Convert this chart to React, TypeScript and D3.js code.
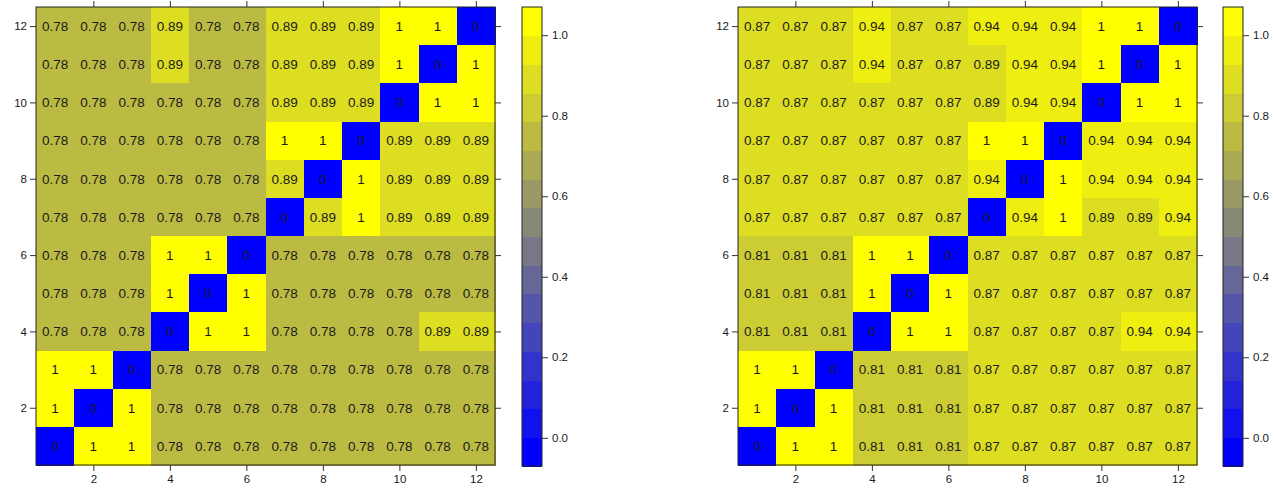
import React, { useEffect, useRef } from 'react';
import * as d3 from 'd3';

// Row labels go from y = 12 (top) down to y = 1 (bottom); columns x = 1..12
const rowsTop = [12, 11, 10, 9, 8, 7, 6, 5, 4, 3, 2, 1];

const leftMatrix: number[][] = [
    [0.78, 0.78, 0.78, 0.89, 0.78, 0.78, 0.89, 0.89, 0.89, 1, 1, 0],
    [0.78, 0.78, 0.78, 0.89, 0.78, 0.78, 0.89, 0.89, 0.89, 1, 0, 1],
    [0.78, 0.78, 0.78, 0.78, 0.78, 0.78, 0.89, 0.89, 0.89, 0, 1, 1],
    [0.78, 0.78, 0.78, 0.78, 0.78, 0.78, 1, 1, 0, 0.89, 0.89, 0.89],
    [0.78, 0.78, 0.78, 0.78, 0.78, 0.78, 0.89, 0, 1, 0.89, 0.89, 0.89],
    [0.78, 0.78, 0.78, 0.78, 0.78, 0.78, 0, 0.89, 1, 0.89, 0.89, 0.89],
    [0.78, 0.78, 0.78, 1, 1, 0, 0.78, 0.78, 0.78, 0.78, 0.78, 0.78],
    [0.78, 0.78, 0.78, 1, 0, 1, 0.78, 0.78, 0.78, 0.78, 0.78, 0.78],
    [0.78, 0.78, 0.78, 0, 1, 1, 0.78, 0.78, 0.78, 0.78, 0.89, 0.89],
    [1, 1, 0, 0.78, 0.78, 0.78, 0.78, 0.78, 0.78, 0.78, 0.78, 0.78],
    [1, 0, 1, 0.78, 0.78, 0.78, 0.78, 0.78, 0.78, 0.78, 0.78, 0.78],
    [0, 1, 1, 0.78, 0.78, 0.78, 0.78, 0.78, 0.78, 0.78, 0.78, 0.78],
];

const rightMatrix: number[][] = [
    [0.87, 0.87, 0.87, 0.94, 0.87, 0.87, 0.94, 0.94, 0.94, 1, 1, 0],
    [0.87, 0.87, 0.87, 0.94, 0.87, 0.87, 0.89, 0.94, 0.94, 1, 0, 1],
    [0.87, 0.87, 0.87, 0.87, 0.87, 0.87, 0.89, 0.94, 0.94, 0, 1, 1],
    [0.87, 0.87, 0.87, 0.87, 0.87, 0.87, 1, 1, 0, 0.94, 0.94, 0.94],
    [0.87, 0.87, 0.87, 0.87, 0.87, 0.87, 0.94, 0, 1, 0.94, 0.94, 0.94],
    [0.87, 0.87, 0.87, 0.87, 0.87, 0.87, 0, 0.94, 1, 0.89, 0.89, 0.94],
    [0.81, 0.81, 0.81, 1, 1, 0, 0.87, 0.87, 0.87, 0.87, 0.87, 0.87],
    [0.81, 0.81, 0.81, 1, 0, 1, 0.87, 0.87, 0.87, 0.87, 0.87, 0.87],
    [0.81, 0.81, 0.81, 0, 1, 1, 0.87, 0.87, 0.87, 0.87, 0.94, 0.94],
    [1, 1, 0, 0.81, 0.81, 0.81, 0.87, 0.87, 0.87, 0.87, 0.87, 0.87],
    [1, 0, 1, 0.81, 0.81, 0.81, 0.87, 0.87, 0.87, 0.87, 0.87, 0.87],
    [0, 1, 1, 0.81, 0.81, 0.81, 0.87, 0.87, 0.87, 0.87, 0.87, 0.87],
];

const axisTicks = [2, 4, 6, 8, 10, 12];
const colorTicks = [0, 0.2, 0.4, 0.6, 0.8, 1.0];

// 16 bands between -0.07 and 1.07, colours ramped blue -> yellow
const nBands = 16;
const colorRange: [number, number] = [-0.07, 1.07];
const breaks = d3.range(nBands + 1).map(i => colorRange[0] + (i * (colorRange[1] - colorRange[0])) / nBands);
const bandColors = d3.range(nBands).map(i => d3.interpolateRgb('#0000ff', '#ffff00')(i / (nBands - 1)));

const colorOf = (v: number) => {
    let idx = d3.bisectRight(breaks, v) - 1;
    idx = Math.max(0, Math.min(nBands - 1, idx));
    return bandColors[idx];
};

const fmt = (v: number) => (v === 0 || v === 1 ? String(v) : v.toFixed(2));

const FONT = '"Liberation Sans", Arial, Helvetica, sans-serif';

export default function App() {
    const svgRef = useRef<SVGSVGElement>(null);

    useEffect(() => {
        if (!svgRef.current) return;
        const svg = d3.select(svgRef.current);
        svg.selectAll('*').remove();

        const panels = [
            { data: leftMatrix, left: 36, keyLeft: 522 },
            { data: rightMatrix, left: 738, keyLeft: 1223 },
        ];
        const top = 7;
        const bottom = 465;
        const size = 459;
        const tickLen = 6;

        panels.forEach(p => {
            const x = d3.scaleLinear().domain([0.5, 12.5]).range([p.left, p.left + size]);
            const y = d3.scaleLinear().domain([0.5, 12.5]).range([bottom, top]);
            const g = svg.append('g');

            const cells = p.data.flatMap((row, ri) =>
                row.map((v, ci) => ({ col: ci + 1, row: rowsTop[ri], v }))
            );

            g.append('g')
                .attr('shape-rendering', 'crispEdges')
                .selectAll('rect')
                .data(cells)
                .join('rect')
                .attr('x', d => x(d.col - 0.5))
                .attr('y', d => y(d.row + 0.5))
                .attr('width', d => x(d.col + 0.5) - x(d.col - 0.5) + 0.6)
                .attr('height', d => y(d.row - 0.5) - y(d.row + 0.5) + 0.6)
                .attr('fill', d => colorOf(d.v));

            g.append('g')
                .attr('font-family', FONT)
                .attr('font-size', 13.5)
                .attr('text-anchor', 'middle')
                .selectAll('text')
                .data(cells)
                .join('text')
                .attr('x', d => x(d.col))
                .attr('y', d => y(d.row))
                .attr('dy', '0.36em')
                .attr('fill', '#1a1a1a')
                .text(d => fmt(d.v));

            g.append('rect')
                .attr('x', p.left)
                .attr('y', top)
                .attr('width', size)
                .attr('height', bottom - top)
                .attr('fill', 'none')
                .attr('stroke', '#222')
                .attr('stroke-width', 1);

            // axes: labelled on left & bottom, tick-only on top & right
            const axL = d3.axisLeft(y).tickValues(axisTicks).tickSize(tickLen).tickPadding(3).tickFormat(d3.format('d'));
            const axB = d3.axisBottom(x).tickValues(axisTicks).tickSize(tickLen).tickPadding(4).tickFormat(d3.format('d'));
            const axT = d3.axisTop(x).tickValues(axisTicks).tickSize(tickLen).tickFormat(() => '');
            const axR = d3.axisRight(y).tickValues(axisTicks).tickSize(tickLen).tickFormat(() => '');

            const styleAxis = (sel: d3.Selection<SVGGElement, unknown, null, undefined>) => {
                sel.select('.domain').remove();
                sel.attr('font-family', FONT).attr('font-size', 11.5).attr('fill', '#1a1a1a');
                sel.selectAll('line').attr('stroke', '#333');
                sel.selectAll('text').attr('fill', '#1a1a1a');
            };

            g.append('g').attr('transform', `translate(${p.left},0)`).call(axL).call(styleAxis);
            g.append('g').attr('transform', `translate(0,${bottom})`).call(axB).call(styleAxis);
            g.append('g').attr('transform', `translate(0,${top})`).call(axT).call(styleAxis);
            g.append('g').attr('transform', `translate(${p.left + size},0)`).call(axR).call(styleAxis);

            // colour key
            const ky = d3.scaleLinear().domain(colorRange).range([466, 7]);
            const keyW = 20;
            g.append('g')
                .attr('shape-rendering', 'crispEdges')
                .selectAll('rect')
                .data(bandColors)
                .join('rect')
                .attr('x', p.keyLeft)
                .attr('y', (_, i) => ky(breaks[i + 1]))
                .attr('width', keyW)
                .attr('height', (_, i) => ky(breaks[i]) - ky(breaks[i + 1]) + 0.6)
                .attr('fill', d => d);

            g.append('rect')
                .attr('x', p.keyLeft)
                .attr('y', ky(colorRange[1]))
                .attr('width', keyW)
                .attr('height', ky(colorRange[0]) - ky(colorRange[1]))
                .attr('fill', 'none')
                .attr('stroke', '#222');

            const axK = d3.axisRight(ky).tickValues(colorTicks).tickSize(tickLen).tickPadding(4).tickFormat(d3.format('.1f'));
            g.append('g').attr('transform', `translate(${p.keyLeft + keyW},0)`).call(axK).call(styleAxis);
        });
    }, []);

    return (
        <div style={{ position: 'absolute', left: 0, top: 0 }}>
            <svg ref={svgRef} width={1276} height={493} style={{ display: 'block', background: '#fff' }} />
        </div>
    );
}
